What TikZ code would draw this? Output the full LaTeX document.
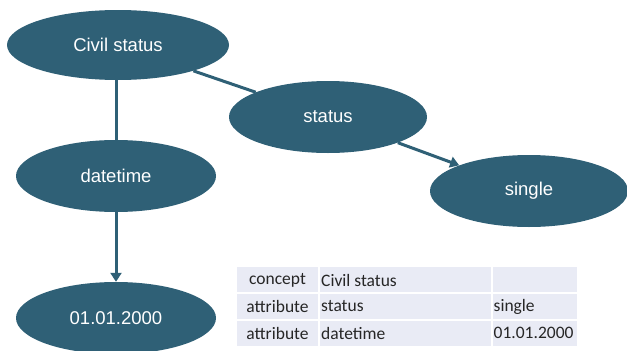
\documentclass[tikz,border=0pt]{standalone}
\usepackage{fontspec}
\setmainfont{Liberation Sans}
\newfontfamily\tabfont{Carlito}
\usetikzlibrary{shapes.geometric,arrows.meta}
\definecolor{teal}{HTML}{2F6076}
\definecolor{cellbg}{HTML}{E9EBF5}
\begin{document}
\begin{tikzpicture}[x=1pt,y=-1pt,
  ell/.style={ellipse,fill=teal,draw=none,inner sep=0pt,minimum width=#1,minimum height=72pt,text=white,font=\fontsize{18.5}{20}\selectfont},
  ell/.default=200pt,
  conn/.style={draw=teal,line width=3pt},
  arr/.style={conn,-{Triangle[length=9pt,width=11pt]}},
  cell/.style={fill=cellbg,draw=none,inner sep=0pt},
  ctext/.style={font=\tabfont\fontsize{17.5}{19}\selectfont,text=black!85,inner sep=0pt}]
\useasboundingbox (0,0) rectangle (627,351);
% ellipses
\node[ell=222pt,minimum height=70pt] (cs) at (118,45) {Civil status};
\node[ell=198pt] (st) at (328,117) {status};
\node[ell=198pt] (sg) at (529,191) {single};
\node[ell=200pt] (dt) at (116,176) {datetime};
\node[ell=200pt] (dv) at (116,318) {01.01.2000};
% connectors
\draw[conn] (cs.south -| dt.north) -- (dt.north);
\draw[arr] (dt) -- (dv);
\draw[conn] (cs) -- (st);
\draw[arr] (st) -- (sg);
% table
\foreach \ya/\yb [count=\r] in {267/292, 294/319, 321/346}{
  \fill[cellbg] (237,\ya) rectangle (318,\yb);
  \fill[cellbg] (320,\ya) rectangle (491,\yb);
  \fill[cellbg] (493,\ya) rectangle (577,\yb);
}
\node[ctext] (t11) at (277.5,280) {concept};
\node[ctext,anchor=west] (t12) at (321,280) {Civil status};
\node[ctext] (t21) at (277.5,306.5) {attribute};
\node[ctext,anchor=west] (t22) at (321,306.5) {status};
\node[ctext,anchor=west] (t23) at (493.5,306.5) {single};
\node[ctext] (t31) at (277.5,333) {attribute};
\node[ctext,anchor=west] (t32) at (321,333) {datetime};
\node[ctext,anchor=west] (t33) at (493.5,333) {01.01.2000};
\end{tikzpicture}
\end{document}
